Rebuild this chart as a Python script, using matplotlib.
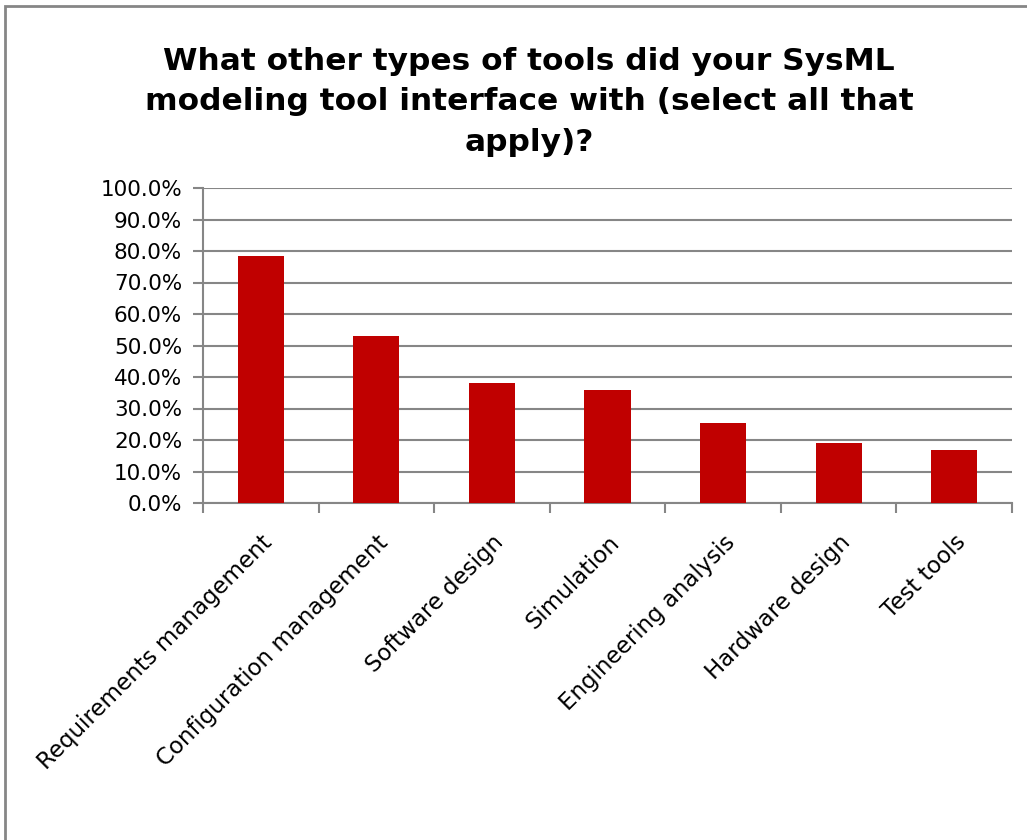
import numpy as np
import matplotlib.pyplot as plt
from matplotlib.patches import Rectangle
from matplotlib.ticker import MultipleLocator, FuncFormatter

categories = ["Requirements management", "Configuration management", "Software design",
              "Simulation", "Engineering analysis", "Hardware design", "Test tools"]
values = [78.4, 53.0, 38.1, 35.9, 25.3, 18.9, 16.8]

plt.rcParams['font.family'] = ['DejaVu Sans']

fig = plt.figure(figsize=(10.27, 8.4), dpi=100)
ax = fig.add_axes([203/1027, 1 - 503/840, (1012-203)/1027, (503-188)/840])

x = np.arange(len(categories))
ax.bar(x, values, width=0.4, color='#c00000', zorder=3)

ax.set_xlim(-0.5, len(categories) - 0.5)
ax.set_ylim(0, 100)
ax.yaxis.set_major_locator(MultipleLocator(10))
ax.yaxis.set_major_formatter(FuncFormatter(lambda v, p: "%.1f%%" % v))
ax.grid(axis='y', color='#868686', linewidth=1.5, zorder=0)

ax.set_xticks(x)
ax.set_xticklabels(categories, rotation=45, ha='right', rotation_mode='anchor', fontsize=16.5)
ax.set_xticks(np.arange(len(categories) + 1) - 0.5, minor=True)
ax.tick_params(axis='x', which='major', length=0, pad=20)
ax.tick_params(axis='x', which='minor', length=7, width=1.5, color='#868686', direction='out')
ax.tick_params(axis='y', length=7, width=1.5, color='#868686', labelsize=15.5, pad=8)

for s in ['top', 'right']:
    ax.spines[s].set_visible(False)
for s in ['left', 'bottom']:
    ax.spines[s].set_color('#868686')
    ax.spines[s].set_linewidth(1.5)

fig.text(0.515, 1 - 102/840, "What other types of tools did your SysML\nmodeling tool interface with (select all that\napply)?",
         ha='center', va='center', fontsize=22.5, fontweight='bold', linespacing=1.5)

fig.patches.append(Rectangle((5/1027, -0.1), 1.1, 1.1 - 6/840, transform=fig.transFigure,
                             fill=False, edgecolor='#868686', linewidth=2))

fig.savefig("out.png", dpi=100)
